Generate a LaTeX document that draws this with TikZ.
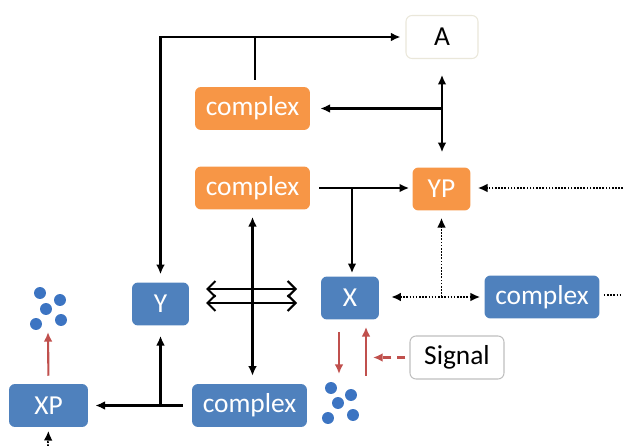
\documentclass[tikz,border=0pt]{standalone}
\usepackage{fontspec}
\setmainfont{Carlito}
\usetikzlibrary{arrows.meta, positioning}

\definecolor{boxorange}{HTML}{F79646}
\definecolor{boxblue}{HTML}{4F81BD}
\definecolor{dotblue}{HTML}{3C74C2}
\definecolor{sigred}{HTML}{C0504D}
\definecolor{paleedge}{HTML}{EAE7DA}

\begin{document}
\begin{tikzpicture}[x=0.02cm, y=-0.02cm, >={Latex[length=5.5pt,width=5pt]},
  every node/.style={font=\fontsize{15.6}{18}\selectfont, inner sep=0pt, minimum height=0.86cm, rounded corners=3.4pt},
  orangebox/.style={fill=boxorange, text=white},
  bluebox/.style={fill=boxblue, text=white},
  whitebox/.style={draw=paleedge, line width=0.6pt, fill=white, text=black},
  link/.style={line width=1.2pt},
  dotlink/.style={line width=1pt, dash pattern=on 0.9pt off 0.9pt},
  redlink/.style={line width=1.2pt, draw=sigred, >={Latex[length=5.5pt,width=5pt,sigred]}},
  openlink/.style={line width=1.2pt, {Straight Barb[length=4.5pt,width=9pt]}-{Straight Barb[length=4.5pt,width=9pt]}}]
  \useasboundingbox (0,0) rectangle (623,446);

  % boxes
  \node (A) at (442,37) [whitebox, minimum width=1.44cm] {A};
  \node (c1) at (252.5,108.5) [orangebox, minimum width=2.3cm] {complex};
  \node (c2) at (252.5,188) [orangebox, minimum width=2.3cm] {complex};
  \node (YP) at (441.5,189) [orangebox, minimum width=1.16cm] {YP};
  \node (Y) at (160.5,304) [bluebox, minimum width=1.14cm] {Y};
  \node (X) at (350,298) [bluebox, minimum width=1.16cm] {X};
  \node (c3) at (542,297) [bluebox, minimum width=2.3cm] {complex};
  \node (XP) at (48.5,405.5) [bluebox, minimum width=1.58cm] {XP};
  \node (c4) at (249.5,405.5) [bluebox, minimum width=2.3cm] {complex};
  \node (sig) at (457,357.5) [whitebox, draw=black!25, minimum width=1.88cm] {Signal};

  % free ends
  \coordinate (top) at (255,37);
  \coordinate (ypin) at (623,188);
  \coordinate (cout) at (623,295);
  \coordinate (xpin) at (48,446);
  \coordinate (xpout) at (48,332);
  \coordinate (xdown) at (339,374);
  \coordinate (xup) at (366,376);
  \coordinate (ol1) at (206,289);
  \coordinate (or1) at (297,289);
  \coordinate (ol2) at (206,303);
  \coordinate (or2) at (297,303);

  % solid connectors
  \draw [link] ([yshift=4pt]c1.north -| top) -- (top);
  \draw [link, ->, shorten >=2.8pt] (top) -- (A.west);
  \draw [link, ->, shorten >=4.5pt] (top) -| (Y.north);
  \draw [link, <->, shorten <=9pt, shorten >=8.5pt] (A.south) -- (A.south |- YP.north);
  \draw [link, ->, shorten >=5.7pt] (A.south |- c1.east) -- (c1.east);
  \draw [link, ->, shorten <=5pt, shorten >=1.7pt] (c2.east) -- (c2.east -| YP.west);
  \draw [link, ->, shorten >=1.7pt] (352,188) -- (X.north -| 352,0);
  \draw [link, <->, shorten <=4pt, shorten >=4.5pt] (c2.south) -- (c2.south |- c4.north);
  \draw [openlink] (ol1) -- (or1);
  \draw [openlink] (ol2) -- (or2);
  \draw [link, ->, shorten <=5pt, shorten >=4pt] (c4.west) -- (XP.east);
  \draw [link, ->, shorten >=5.7pt] (Y.south |- c4.west) -- (Y.south);

  % dotted connectors
  \draw [dotlink, ->, shorten >=4pt] (ypin) -- (ypin -| YP.east);
  \draw [dotlink, <->, shorten <=6.8pt, shorten >=2.3pt] (X.east |- c3.west) -- (c3.west);
  \draw [dotlink, ->, shorten >=4pt] (YP.south |- c3.west) -- (YP.south);
  \draw [dotlink, shorten <=2.3pt] (c3.east |- cout) -- (cout);
  \draw [dotlink, ->, shorten >=2pt] (xpin) -- (XP.south);

  % signal
  \draw [redlink, ->, shorten <=4.5pt] (XP.north) -- (xpout);
  \draw [redlink, ->, shorten <=6.8pt] (X.south -| xdown) -- (xdown);
  \draw [redlink, ->, shorten >=4pt] (xup) -- (X.south -| xup);
  \draw [redlink, dash pattern=on 5pt off 3pt, ->, shorten <=2.3pt, shorten >=4pt] (sig.west) -- (sig.west -| xup);

  % dots
  \foreach \p in {(40,293),(60,300),(46,309),(36,324),(61,320),
                  (331,388),(351,395),(338,403),(328,418),(353,415)}
    \fill [dotblue] \p circle [radius=3.4pt];
\end{tikzpicture}
\end{document}
